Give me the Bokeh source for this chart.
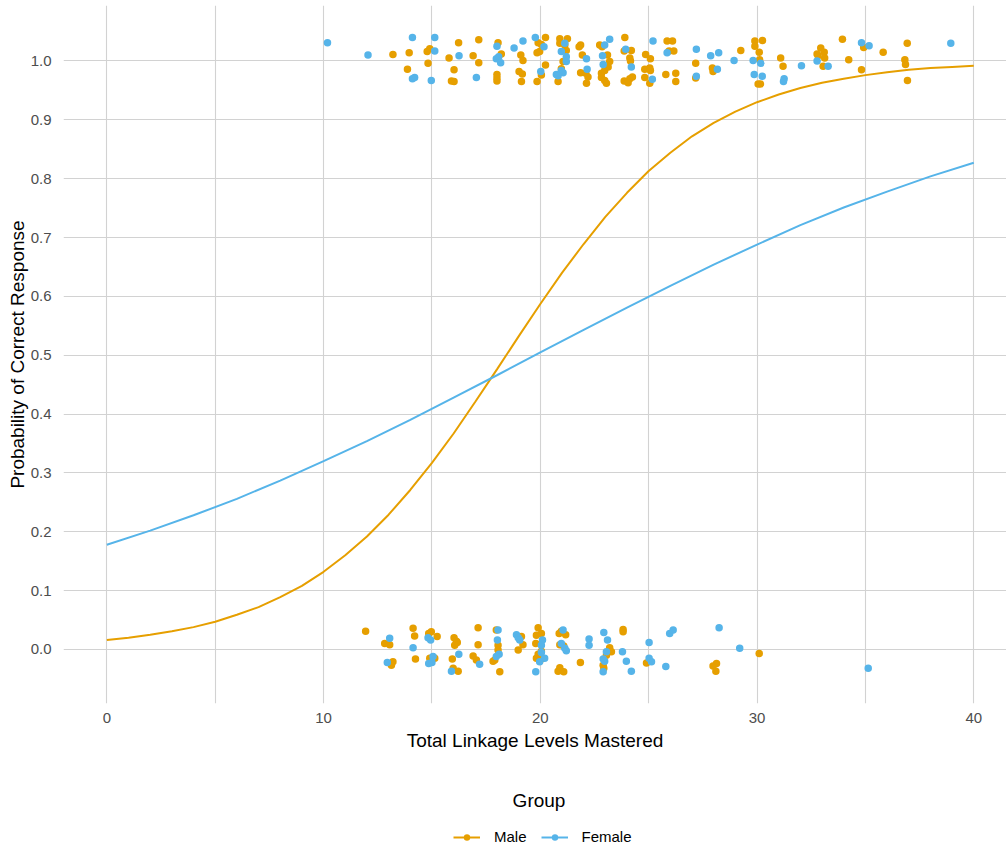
from bokeh.plotting import figure
from bokeh.layouts import column
from bokeh.models import (FixedTicker, PrintfTickFormatter, Legend, LegendItem,
                          Label, Range1d)
from bokeh.embed import file_html
from bokeh.resources import INLINE

MALE = "#E69F00"
FEMALE = "#56B4E9"
FONT = "Liberation Sans"

# ---- fitted curves ----
curve_x_male = list(range(0, 41))
male_prob = [0.016, 0.020, 0.025, 0.031, 0.038, 0.047, 0.059, 0.072, 0.089, 0.108,
             0.132, 0.160, 0.192, 0.229, 0.271, 0.317, 0.367, 0.421, 0.476, 0.532,
             0.587, 0.640, 0.689, 0.735, 0.776, 0.813, 0.844, 0.872, 0.895, 0.914,
             0.930, 0.943, 0.954, 0.963, 0.970, 0.976, 0.981, 0.985, 0.988, 0.990,
             0.992]
curve_x_female = list(range(0, 41, 2))
female_prob = [0.178, 0.202, 0.228, 0.256, 0.287, 0.320, 0.354, 0.390, 0.428, 0.466,
               0.505, 0.543, 0.581, 0.618, 0.654, 0.688, 0.721, 0.751, 0.778, 0.804,
               0.827]

# ---- jittered observations: Male ----
male_x = [13.2, 13.95, 14.78, 14.9, 14.82, 13.87, 16.02, 15.9, 16.02, 15.79, 16.23, 16.9,
          17.16, 17.16, 18.05, 18.2, 18.0, 18.0, 18.0, 19.1, 19.2, 19.02, 19.17, 19.13,
          19.9, 20.05, 19.97, 19.85, 20.24, 20.24, 20.05, 19.85,
          20.9, 21.25, 20.9, 21.13, 21.2, 21.05, 20.97, 20.82, 21.86, 21.79, 21.94, 21.86,
          22.1, 22.2, 22.13, 22.74, 22.85, 23.1, 22.82, 22.97, 23.13, 23.2, 22.82, 22.97,
          23.05, 23.9, 23.87, 24.2, 24.13, 24.16, 23.87, 24.13, 24.25, 24.05, 24.86, 25.08,
          24.82, 25.05, 25.08, 24.82, 25.05, 25.85, 26.1, 25.94, 26.16, 25.79, 26.25, 26.25,
          27.17, 27.17, 27.94, 27.97, 29.25, 29.9, 30.25, 29.9, 30.1, 30.12, 30.05, 30.16,
          31.09, 31.2, 32.94, 32.77, 33.1, 33.12, 32.82, 33.05, 33.94, 34.23, 34.92, 34.82,
          35.82, 36.93, 36.82, 36.85, 36.94,
          11.94, 12.82, 13.05, 13.13, 13.2, 14.13, 14.2, 14.24, 14.85, 14.97, 15.24, 14.9,
          15.13, 16.02, 16.13, 16.05, 16.17, 15.94, 15.98, 16.21, 16.9, 17.05, 17.13, 17.13,
          17.97, 18.05, 18.05, 17.82, 17.9, 18.13, 18.98, 19.13, 19.2, 19.9, 19.82, 20.05,
          19.79, 20.05, 19.82, 20.05, 19.9, 20.97, 20.87, 21.17, 20.9, 21.08, 20.9, 20.82,
          21.08, 21.85, 23.82, 23.82, 23.2, 23.05, 23.28, 22.9, 22.93, 24.9, 27.97, 28.13,
          28.1, 30.1]
male_y = [1.011, 1.014, 1.016, 1.021, 0.996, 0.986, 0.985, 0.966, 0.965, 1.005, 1.031, 1.009,
          1.036, 0.997, 1.031, 1.012, 0.977, 0.971, 0.966, 1.010, 1.001, 0.982, 0.978, 0.965,
          1.031, 1.028, 1.016, 1.014, 1.040, 0.993, 0.976, 0.965,
          1.038, 1.038, 1.030, 1.027, 1.018, 0.999, 0.987, 0.965, 1.027, 1.024, 1.010, 0.980,
          0.979, 0.973, 0.962, 1.027, 1.024, 1.010, 0.979, 0.984, 0.990, 0.999, 0.972, 0.967,
          0.962, 1.040, 1.017, 1.018, 1.005, 1.000, 0.966, 0.970, 0.973, 0.963, 1.011, 1.004,
          0.986, 0.988, 0.984, 0.972, 0.962, 1.034, 1.034, 1.017, 1.017, 0.977, 0.979, 0.965,
          0.996, 0.971, 0.988, 0.982, 1.018, 1.034, 1.035, 1.025, 1.015, 1.002, 0.961, 0.961,
          1.005, 0.991, 1.022, 1.012, 1.015, 1.005, 1.009, 0.991, 1.037, 1.002, 1.023, 0.985,
          1.015, 1.030, 1.002, 0.994, 0.967,
          0.031, 0.010, 0.008, -0.027, -0.021, 0.036, 0.023, -0.016, 0.027, 0.030, 0.022, -0.015,
          -0.015, 0.020, 0.014, 0.007, 0.012, -0.016, -0.032, -0.037, -0.011, -0.018, 0.037, 0.008,
          0.033, 0.007, -0.001, -0.020, -0.018, -0.038, -0.001, 0.022, 0.008, 0.037, 0.024, 0.027,
          0.010, -0.003, -0.015, -0.016, -0.008, 0.031, 0.027, 0.025, 0.008, 0.006, -0.031, -0.037,
          -0.038, -0.022, 0.034, 0.030, 0.003, -0.010, -0.004, -0.027, -0.032, -0.023, -0.028, -0.024,
          -0.037, -0.007]

# ---- jittered observations: Female ----
female_x = [10.18, 12.05, 14.1, 15.13, 15.13, 14.2, 14.1, 14.97, 16.25, 17.05, 18.0, 17.97,
            18.08, 18.17, 18.79, 19.2, 19.77, 20.17, 20.02, 21.13, 20.97, 21.2, 21.2, 20.97,
            20.74, 21.05, 20.82, 23.2, 22.97, 22.13, 22.16, 22.87, 22.9, 24.2, 23.94, 25.2,
            25.85, 25.17, 27.2, 27.2, 27.86, 28.23, 28.17, 28.94, 29.82, 30.17, 29.87, 30.24,
            31.25, 31.22, 32.05, 32.77, 33.28, 34.82, 35.17, 38.94,
            13.05, 12.94, 14.13, 14.82, 14.94, 15.05, 14.85, 15.0, 15.9, 16.24, 17.2, 18.05,
            18.02, 18.1, 17.97, 18.9, 18.98, 19.05, 20.1, 20.05, 20.05, 20.2, 19.97, 19.79,
            21.05, 20.97, 21.13, 21.2, 22.25, 22.25, 22.93, 23.1, 23.05, 22.9, 22.97, 22.9,
            23.79, 23.97, 24.2, 25.02, 25.02, 25.13, 25.79, 25.97, 26.13, 28.25, 29.2, 35.13]
female_y = [1.031, 1.010, 1.040, 1.040, 1.017, 0.972, 0.970, 0.967, 1.009, 0.972, 1.025, 1.004,
            1.007, 0.997, 1.022, 1.034, 1.040, 1.024, 0.982, 1.030, 1.016, 1.007, 0.999, 0.984,
            0.977, 0.980, 0.975, 1.037, 1.027, 1.004, 0.986, 1.009, 0.994, 0.990, 1.020, 1.034,
            1.014, 0.969, 1.020, 0.974, 1.009, 1.014, 0.986, 1.001, 1.001, 0.996, 0.977, 0.974,
            0.970, 0.965, 0.992, 1.000, 0.991, 1.031, 1.026, 1.030,
            0.019, -0.022, 0.003, 0.020, 0.016, -0.012, -0.024, -0.022, -0.037, -0.008, -0.025, 0.033,
            0.016, -0.008, -0.012, 0.025, 0.020, 0.016, 0.016, 0.007, -0.005, -0.015, -0.021, -0.038,
            0.033, 0.010, 0.002, -0.002, 0.018, 0.007, 0.029, 0.016, -0.004, -0.016, -0.020, -0.038,
            -0.004, -0.020, -0.037, 0.012, -0.015, -0.021, -0.029, 0.027, 0.033, 0.037, 0.002, -0.032]

x_ticks = [0, 10, 20, 30, 40]
x_grid = [0, 5, 10, 15, 20, 25, 30, 35, 40]
y_ticks = [0.0, 0.1, 0.2, 0.3, 0.4, 0.5, 0.6, 0.7, 0.8, 0.9, 1.0]
NAN = float("nan")

p = figure(width=1006, height=760,
           x_range=Range1d(-2, 41.51), y_range=Range1d(-0.0918, 1.0943),
           output_backend="svg", toolbar_location=None,
           min_border_left=63, min_border_right=0, min_border_top=5,
           min_border_bottom=57, background_fill_color="white",
           border_fill_color="white")
p.outline_line_color = None

# grids
p.xgrid.ticker = FixedTicker(ticks=x_grid)
p.ygrid.ticker = FixedTicker(ticks=y_ticks)
for g in (p.xgrid[0], p.ygrid[0]):
    g.grid_line_color = "#D2D2D2"
    g.grid_line_width = 1.1

# axes
for ax in (p.xaxis[0], p.yaxis[0]):
    ax.axis_line_color = None
    ax.major_tick_line_color = None
    ax.minor_tick_line_color = None
    ax.major_label_text_font = FONT
    ax.major_label_text_font_size = "15px"
    ax.major_label_text_color = "#4D4D4D"
    ax.axis_label_text_font = FONT
    ax.axis_label_text_font_size = "19px"
    ax.axis_label_text_font_style = "normal"
    ax.axis_label_text_color = "#000000"
p.xaxis.ticker = FixedTicker(ticks=x_ticks)
p.yaxis.ticker = FixedTicker(ticks=y_ticks)
p.yaxis.formatter = PrintfTickFormatter(format="%.1f")
p.xaxis.axis_label = "Total Linkage Levels Mastered"
p.yaxis.axis_label = "Probability of Correct Response"
p.xaxis.major_label_standoff = 3
p.xaxis.axis_label_standoff = 4
p.yaxis.major_label_standoff = 6
p.yaxis.axis_label_standoff = 0

# points
male_pts = p.scatter(male_x, male_y, size=7.5, color=MALE, line_color=None)
female_pts = p.scatter(female_x, female_y, size=7.5, color=FEMALE, line_color=None)

# curves
male_line = p.line(curve_x_male, male_prob, line_color=MALE, line_width=2)
female_line = p.line(curve_x_female, female_prob, line_color=FEMALE, line_width=2)

# ---- legend strip below the chart; its x coordinates equal page pixels ----
leg = figure(width=1006, height=90, x_range=Range1d(63, 1006), y_range=Range1d(0, 90),
             output_backend="svg", toolbar_location=None, x_axis_type=None,
             y_axis_type=None, min_border=0, min_border_left=63, min_border_right=0,
             background_fill_color="white", border_fill_color="white")
leg.outline_line_color = None
leg.grid.visible = False

leg.add_layout(Label(x=538.5, y=50, text="Group", text_align="center",
                     text_baseline="middle", text_font=FONT, text_font_size="19px",
                     text_color="#000000"))

# legend keys (not-a-number data, so they only show up in the legend)
key_m_line = leg.line([NAN, NAN], [NAN, NAN], line_color=MALE, line_width=2)
key_m_pt = leg.scatter([NAN], [NAN], size=7.5, color=MALE, line_color=None)
key_f_line = leg.line([NAN, NAN], [NAN, NAN], line_color=FEMALE, line_width=2)
key_f_pt = leg.scatter([NAN], [NAN], size=7.5, color=FEMALE, line_color=None)

legend = Legend(items=[LegendItem(label="Male", renderers=[key_m_line, key_m_pt]),
                       LegendItem(label="Female", renderers=[key_f_line, key_f_pt])],
                orientation="horizontal", location=(390, 5),
                label_text_font=FONT, label_text_font_size="15px",
                label_text_color="#000000", glyph_width=27, glyph_height=16,
                label_height=16, label_standoff=14, spacing=14, padding=0, margin=0,
                border_line_color=None, background_fill_alpha=0)
leg.add_layout(legend)

layout = column(p, leg, spacing=0)
open("out.html", "w").write(file_html(layout, INLINE))
